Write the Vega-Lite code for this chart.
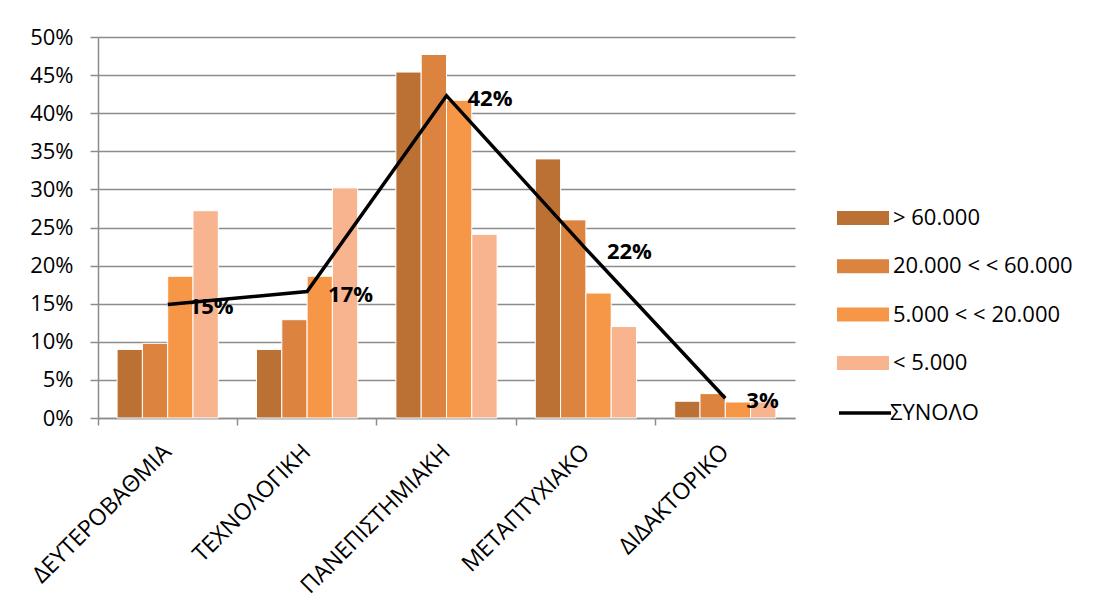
{
  "$schema": "https://vega.github.io/schema/vega-lite/v6.json",
  "width": 697,
  "height": 381,
  "autosize": {"type": "none"},
  "padding": {"left": 98, "top": 37, "right": 310, "bottom": 196},
  "background": "white",
  "config": {
    "font": "Open Sans",
    "view": {"stroke": null},
    "axis": {"labelColor": "black", "labelFontSize": 22, "domainColor": "#8c8c8c", "tickColor": "#8c8c8c", "domainWidth": 1.5, "tickWidth": 1.5},
    "legend": {"padding": 0, "labelFontSize": 22, "labelColor": "black", "labelLimit": 400, "labelOffset": 4}
  },
  "datasets": {
    "bars": [
      {"category": "ΔΕΥΤΕΡΟΒΑΘΜΙΑ", "group": "> 60.000", "value": 0.090},
      {"category": "ΔΕΥΤΕΡΟΒΑΘΜΙΑ", "group": "20.000 < < 60.000", "value": 0.098},
      {"category": "ΔΕΥΤΕΡΟΒΑΘΜΙΑ", "group": "5.000 < < 20.000", "value": 0.186},
      {"category": "ΔΕΥΤΕΡΟΒΑΘΜΙΑ", "group": "< 5.000", "value": 0.272},
      {"category": "ΤΕΧΝΟΛΟΓΙΚΗ", "group": "> 60.000", "value": 0.090},
      {"category": "ΤΕΧΝΟΛΟΓΙΚΗ", "group": "20.000 < < 60.000", "value": 0.129},
      {"category": "ΤΕΧΝΟΛΟΓΙΚΗ", "group": "5.000 < < 20.000", "value": 0.186},
      {"category": "ΤΕΧΝΟΛΟΓΙΚΗ", "group": "< 5.000", "value": 0.302},
      {"category": "ΠΑΝΕΠΙΣΤΗΜΙΑΚΗ", "group": "> 60.000", "value": 0.454},
      {"category": "ΠΑΝΕΠΙΣΤΗΜΙΑΚΗ", "group": "20.000 < < 60.000", "value": 0.477},
      {"category": "ΠΑΝΕΠΙΣΤΗΜΙΑΚΗ", "group": "5.000 < < 20.000", "value": 0.417},
      {"category": "ΠΑΝΕΠΙΣΤΗΜΙΑΚΗ", "group": "< 5.000", "value": 0.241},
      {"category": "ΜΕΤΑΠΤΥΧΙΑΚΟ", "group": "> 60.000", "value": 0.340},
      {"category": "ΜΕΤΑΠΤΥΧΙΑΚΟ", "group": "20.000 < < 60.000", "value": 0.260},
      {"category": "ΜΕΤΑΠΤΥΧΙΑΚΟ", "group": "5.000 < < 20.000", "value": 0.164},
      {"category": "ΜΕΤΑΠΤΥΧΙΑΚΟ", "group": "< 5.000", "value": 0.120},
      {"category": "ΔΙΔΑΚΤΟΡΙΚΟ", "group": "> 60.000", "value": 0.022},
      {"category": "ΔΙΔΑΚΤΟΡΙΚΟ", "group": "20.000 < < 60.000", "value": 0.032},
      {"category": "ΔΙΔΑΚΤΟΡΙΚΟ", "group": "5.000 < < 20.000", "value": 0.021},
      {"category": "ΔΙΔΑΚΤΟΡΙΚΟ", "group": "< 5.000", "value": 0.021}
    ],
    "total": [
      {"category": "ΔΕΥΤΕΡΟΒΑΘΜΙΑ", "value": 0.149},
      {"category": "ΤΕΧΝΟΛΟΓΙΚΗ", "value": 0.166},
      {"category": "ΠΑΝΕΠΙΣΤΗΜΙΑΚΗ", "value": 0.423},
      {"category": "ΜΕΤΑΠΤΥΧΙΑΚΟ", "value": 0.222},
      {"category": "ΔΙΔΑΚΤΟΡΙΚΟ", "value": 0.026}
    ]
  },
  "encoding": {
    "x": {
      "field": "category",
      "type": "nominal",
      "sort": null,
      "scale": {
        "domain": ["ΔΕΥΤΕΡΟΒΑΘΜΙΑ", "ΤΕΧΝΟΛΟΓΙΚΗ", "ΠΑΝΕΠΙΣΤΗΜΙΑΚΗ", "ΜΕΤΑΠΤΥΧΙΑΚΟ", "ΔΙΔΑΚΤΟΡΙΚΟ"],
        "paddingInner": 0,
        "paddingOuter": 0
      },
      "axis": {
        "title": null,
        "labelAngle": -45,
        "labelAlign": "right",
        "labelBaseline": "middle",
        "labelLimit": 400,
        "labelFontSize": 23,
        "bandPosition": 0,
        "labelOffset": 0,
        "labelPadding": 23,
        "tickSize": 7,
        "grid": false
      }
    },
    "y": {
      "field": "value",
      "type": "quantitative",
      "scale": {"domain": [0, 0.5]},
      "axis": {
        "title": null,
        "format": ".0%",
        "values": [0, 0.05, 0.1, 0.15, 0.2, 0.25, 0.3, 0.35, 0.4, 0.45, 0.5],
        "grid": true,
        "gridColor": "#8c8c8c",
        "gridWidth": 1.5,
        "tickSize": 8,
        "labelPadding": 17
      }
    }
  },
  "layer": [
    {
      "data": {"name": "bars"},
      "mark": {"type": "bar", "stroke": "white", "strokeWidth": 1},
      "encoding": {
        "xOffset": {
          "field": "group",
          "type": "nominal",
          "scale": {
            "domain": ["> 60.000", "20.000 < < 60.000", "5.000 < < 20.000", "< 5.000"],
            "paddingInner": 0,
            "paddingOuter": 0.755
          }
        },
        "color": {
          "field": "group",
          "type": "nominal",
          "scale": {
            "domain": ["> 60.000", "20.000 < < 60.000", "5.000 < < 20.000", "< 5.000"],
            "range": ["#bb7134", "#db833f", "#f69748", "#f8b48e"]
          },
          "legend": {
            "title": null,
            "orient": "none",
            "legendX": 739,
            "legendY": 155,
            "symbolType": "M-1,-0.27H1V0.27H-1Z",
            "symbolSize": 2704,
            "symbolStrokeWidth": 0,
            "symbolOpacity": 1,
            "rowPadding": 11.3
          }
        }
      }
    },
    {
      "data": {"name": "total"},
      "mark": {"type": "line", "strokeWidth": 3.5},
      "encoding": {
        "stroke": {
          "datum": "ΣΥΝΟΛΟ",
          "scale": {"domain": ["ΣΥΝΟΛΟ"], "range": ["#000000"]},
          "legend": {
            "title": null,
            "orient": "none",
            "legendX": 739,
            "legendY": 348,
            "symbolType": "stroke",
            "symbolSize": 2704,
            "symbolStrokeWidth": 3.5,
            "labelOffset": -3
          }
        }
      }
    },
    {
      "data": {"name": "total"},
      "mark": {"type": "text", "align": "left", "baseline": "middle", "dx": 21, "dy": 3, "fontSize": 22, "fontWeight": "bold", "color": "black"},
      "encoding": {
        "text": {"field": "value", "type": "quantitative", "format": ".0%"}
      }
    }
  ]
}
